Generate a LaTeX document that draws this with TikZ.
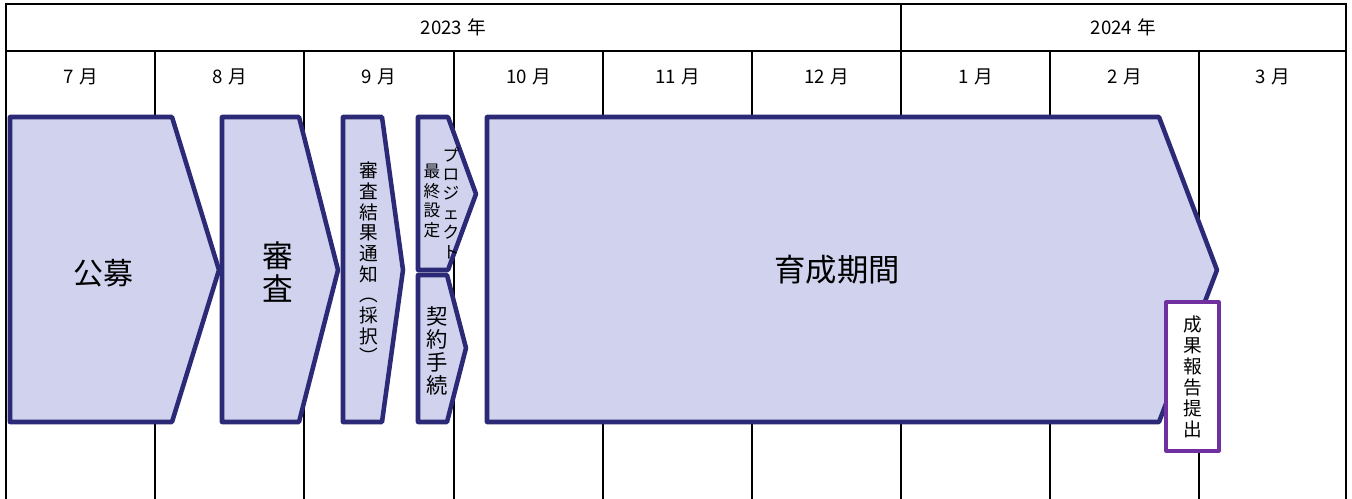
\documentclass[tikz,border=0pt]{standalone}
\usepackage{fontspec}
\setmainfont{Noto Sans CJK JP}
\definecolor{navy}{RGB}{44,42,118}
\definecolor{lav}{RGB}{208,210,238}
\definecolor{purp}{RGB}{112,48,160}
\tikzset{
  phase/.style={draw=navy, fill=lav, line width=3.4pt, line join=round},
  gridline/.style={line width=1.5pt, black},
  hdr/.style={font=\fontsize{14}{16}\selectfont, inner sep=0pt},
  vtext/.style={align=center, inner sep=0pt},
  report/.style={draw=purp, fill=white, line width=2.3pt, line join=round}
}
\begin{document}
\begin{tikzpicture}[x=0.75pt,y=-0.75pt]
\useasboundingbox (0,0) rectangle (1352,499);
\clip (0,0) rectangle (1352,499);
% grid
\draw[gridline] (6,510) -- (6,4) -- (1346,4) -- (1346,510);
\draw[gridline] (6,51) -- (1346,51);
\draw[gridline] (901,4) -- (901,510);
\foreach \x in {155,304,454,603,752,1050,1199} \draw[gridline] (\x,51) -- (\x,510);
% headers
\node[hdr] (y2023) at (453.5,27) {2023\hspace{0.3em}年};
\node[hdr] (y2024) at (1123.5,27) {2024\hspace{0.3em}年};
\node[hdr] (m7) at (80.5,77) {7\hspace{0.3em}月};
\node[hdr] (m8) at (229.5,77) {8\hspace{0.3em}月};
\node[hdr] (m9) at (379,77) {9\hspace{0.3em}月};
\node[hdr] (m10) at (528.5,77) {10\hspace{0.3em}月};
\node[hdr] (m11) at (677.5,77) {11\hspace{0.3em}月};
\node[hdr] (m12) at (826.5,77) {12\hspace{0.3em}月};
\node[hdr] (m1) at (975.5,77) {1\hspace{0.3em}月};
\node[hdr] (m2) at (1124.5,77) {2\hspace{0.3em}月};
\node[hdr] (m3) at (1272.5,77) {3\hspace{0.3em}月};
% phases
\draw[phase] (10,117) -- (172,117) -- (219,270) -- (172,422) -- (10,422) -- cycle;
\draw[phase] (222,117) -- (299,117) -- (338,270) -- (299,422) -- (222,422) -- cycle;
\draw[phase] (343,117) -- (382,117) -- (403,270) -- (382,422) -- (343,422) -- cycle;
\draw[phase] (418,117) -- (448,117) -- (476,194) -- (448,270) -- (418,270) -- cycle;
\draw[phase] (418,275) -- (447,275) -- (466,348) -- (447,422) -- (418,422) -- cycle;
\draw[phase] (487,117) -- (1159,117) -- (1217,270) -- (1159,422) -- (487,422) -- cycle;
% texts
\node[inner sep=0pt, font=\fontsize{22.5}{25}\selectfont] (koubo) at (103,273) {公募};
\node[vtext, font=\fontsize{23}{25}\selectfont] (shinsa) at (278,272) {審\\査};
\node[vtext, font=\fontsize{14}{15.5}\selectfont] (tsuchi) at (369,263) {審\\査\\結\\果\\通\\知\\︵\\採\\択\\︶};
\node[vtext, font=\fontsize{12.5}{14.6}\selectfont] (pj) at (451,203) {プ\\ロ\\ジ\\ェ\\ク\\ト};
\node[vtext, font=\fontsize{12.5}{14.6}\selectfont] (saishu) at (432,201) {最\\終\\設\\定};
\node[vtext, font=\fontsize{16}{17.3}\selectfont] (keiyaku) at (437,351) {契\\約\\手\\続};
\node[inner sep=0pt, font=\fontsize{23.5}{26}\selectfont] (ikusei) at (837,270) {育成期間};
% report box
\draw[report] (1166,302) rectangle (1219,451);
\node[vtext, font=\fontsize{14}{15.75}\selectfont] (houkoku) at (1192.5,377) {成\\果\\報\\告\\提\\出};
\end{tikzpicture}
\end{document}
